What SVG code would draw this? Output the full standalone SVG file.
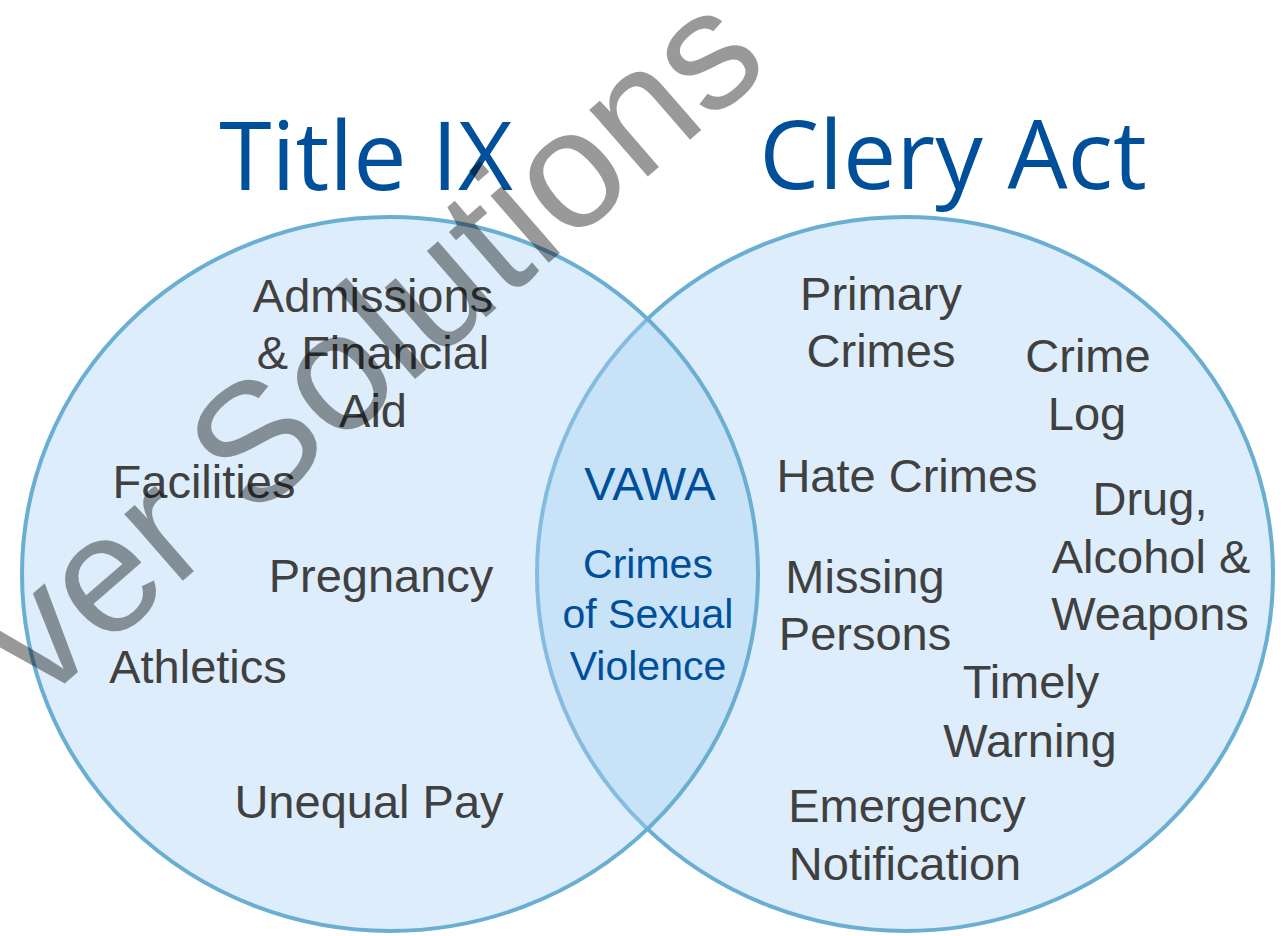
<svg xmlns="http://www.w3.org/2000/svg" width="1287" height="936" viewBox="0 0 1287 936">
<style>
.circ{fill:rgb(170,210,245);fill-opacity:0.4;stroke:#6aaed2;stroke-width:4}
.title{font-family:"Open Sans","Liberation Sans",sans-serif;font-size:95px;fill:#004f9a;text-anchor:middle}
.item{font-family:"Liberation Sans",Arial,sans-serif;font-size:47px;fill:#404040;text-anchor:middle}
.vawa{font-family:"Liberation Sans",Arial,sans-serif;font-size:47px;fill:#004f9a;text-anchor:middle}
.sv{font-family:"Liberation Sans",Arial,sans-serif;font-size:41px;fill:#004f9a;text-anchor:middle}
.wm{font-family:"Liberation Sans",Arial,sans-serif;font-size:168px;fill:#000;fill-opacity:0.4}
</style>
<rect width="1287" height="936" fill="#ffffff"/>
<g id="clery-circle"><ellipse class="circ" cx="905" cy="574" rx="368" ry="357"/></g>
<g id="titleix-circle"><ellipse class="circ" cx="390" cy="574" rx="368" ry="357"/></g>
<g id="titles">
<text class="title" x="366" y="190">Title IX</text>
<text class="title" x="953" y="189">Clery Act</text>
</g>
<g id="titleix-items">
<text class="item" x="373" y="312">Admissions</text>
<text class="item" x="373" y="369">&amp; Financial</text>
<text class="item" x="373" y="427">Aid</text>
<text class="item" x="204" y="498">Facilities</text>
<text class="item" x="381" y="592">Pregnancy</text>
<text class="item" x="198" y="683">Athletics</text>
<text class="item" x="369" y="818">Unequal Pay</text>
</g>
<g id="vawa">
<text class="vawa" x="650" y="500">VAWA</text>
<text class="sv" x="648" y="578">Crimes</text>
<text class="sv" x="648" y="628">of Sexual</text>
<text class="sv" x="648" y="680">Violence</text>
</g>
<g id="clery-items">
<text class="item" x="881" y="310">Primary</text>
<text class="item" x="881" y="367">Crimes</text>
<text class="item" x="1088" y="372">Crime</text>
<text class="item" x="1087" y="430">Log</text>
<text class="item" x="907" y="492">Hate Crimes</text>
<text class="item" x="1150" y="515">Drug,</text>
<text class="item" x="1151" y="573">Alcohol &amp;</text>
<text class="item" x="1150" y="630">Weapons</text>
<text class="item" x="865" y="593">Missing</text>
<text class="item" x="865" y="650">Persons</text>
<text class="item" x="1031" y="698">Timely</text>
<text class="item" x="1030" y="757">Warning</text>
<text class="item" x="907" y="822">Emergency</text>
<text class="item" x="905" y="880">Notification</text>
</g>
<g id="connectors"/>
<g id="watermark">
<text class="wm" transform="translate(40,705) rotate(-41)">ver Solutions</text>
</g>
</svg>
